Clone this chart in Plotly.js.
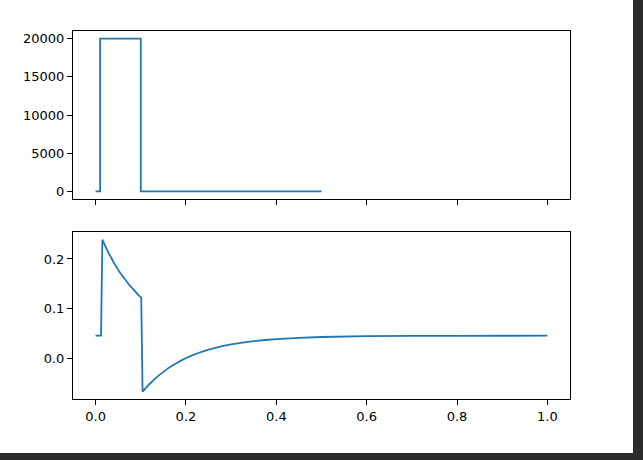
<!DOCTYPE html>
<html>
<head>
<meta charset="utf-8">
<script src="https://cdn.plot.ly/plotly-3.0.1.min.js"></script>
<style>
  html, body { margin: 0; padding: 0; background: #2b2b2b; width: 643px; height: 460px; overflow: hidden; }
  #plot { width: 633px; height: 453px; background: #ffffff; }
</style>
</head>
<body>
<div id="plot"></div>
<script>
// Top subplot: input pulse
const pulseX = [0.0, 0.01, 0.01, 0.1, 0.1, 0.5];
const pulseY = [0, 0, 20000, 20000, 0, 0];

// Bottom subplot: response
const respX = [0.0, 0.012, 0.015, 0.02, 0.025, 0.03, 0.035, 0.04, 0.045, 0.05, 0.055, 0.06, 0.065,
  0.07, 0.075, 0.08, 0.085, 0.09, 0.095, 0.101,
  0.104, 0.107, 0.11, 0.115, 0.12, 0.125, 0.13, 0.135, 0.14, 0.145, 0.15, 0.16, 0.17, 0.18, 0.19,
  0.20, 0.21, 0.22, 0.235, 0.25, 0.265, 0.28, 0.30, 0.325,
  0.35, 0.375, 0.40, 0.45, 0.50, 0.60, 0.70, 0.80, 0.90, 1.0];
const respY = [0.045, 0.045, 0.239, 0.229, 0.219, 0.210, 0.202, 0.193, 0.186, 0.178, 0.171, 0.165, 0.159,
  0.153, 0.147, 0.142, 0.137, 0.132, 0.127, 0.122,
  -0.068, -0.0648, -0.0617, -0.0568, -0.052, -0.0475, -0.043, -0.0391, -0.035, -0.0315, -0.028, -0.021, -0.0152, -0.010, -0.0048,
  0.000, 0.0039, 0.0076, 0.0126, 0.0169, 0.0206, 0.0239, 0.0275, 0.0312,
  0.0342, 0.0364, 0.0383, 0.0408, 0.0424, 0.0440, 0.0446, 0.0448, 0.0449, 0.045];

const xTicks = [0.0, 0.2, 0.4, 0.6, 0.8, 1.0];
const xTickText = ['0.0', '0.2', '0.4', '0.6', '0.8', '1.0'];
const y1Ticks = [0, 5000, 10000, 15000, 20000];
const y2Ticks = [0.0, 0.1, 0.2];
const y2TickText = ['0.0', '0.1', '0.2'];

const lineColor = '#1f77b4';
const font = { family: 'DejaVu Sans', size: 13, color: '#000000' };

const axisCommon = {
  showline: true, mirror: true, linecolor: '#000000', linewidth: 1,
  ticks: 'outside', ticklen: 5, tickwidth: 1, tickcolor: '#000000',
  showgrid: false, zeroline: false, tickfont: font
};

const data = [
  { x: pulseX, y: pulseY, type: 'scatter', mode: 'lines', line: { color: lineColor, width: 1.8, simplify: false }, xaxis: 'x', yaxis: 'y', hoverinfo: 'none' },
  { x: respX, y: respY, type: 'scatter', mode: 'lines', line: { color: lineColor, width: 1.8, simplify: false }, xaxis: 'x2', yaxis: 'y2', hoverinfo: 'none' }
];

const layout = {
  width: 633, height: 453,
  margin: { l: 73, r: 63, t: 31, b: 54 },
  paper_bgcolor: '#ffffff', plot_bgcolor: '#ffffff',
  showlegend: false,
  font: font,
  xaxis: Object.assign({}, axisCommon, { domain: [0, 1], anchor: 'y', range: [-0.05, 1.05], tickvals: xTicks, showticklabels: false }),
  yaxis: Object.assign({}, axisCommon, { domain: [0.5435, 1], anchor: 'x', range: [-1000, 21000], tickvals: y1Ticks, ticktext: y1Ticks.map(String) }),
  xaxis2: Object.assign({}, axisCommon, { domain: [0, 1], anchor: 'y2', range: [-0.05, 1.05], tickvals: xTicks, ticktext: xTickText }),
  yaxis2: Object.assign({}, axisCommon, { domain: [0, 0.4538], anchor: 'x2', range: [-0.0828, 0.2545], tickvals: y2Ticks, ticktext: y2TickText })
};

Plotly.newPlot('plot', data, layout, { staticPlot: true, displayModeBar: false });
</script>
</body>
</html>
